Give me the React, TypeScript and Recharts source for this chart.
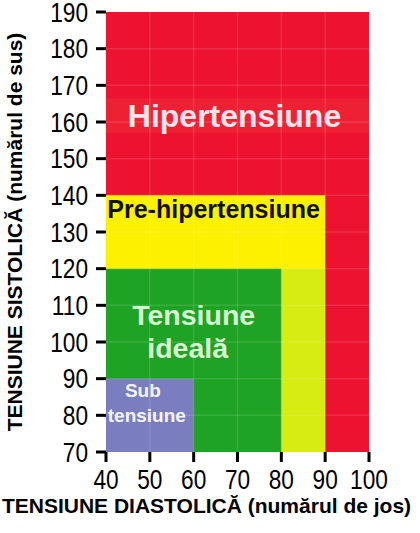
import React from 'react';
import { ComposedChart, XAxis, YAxis, ReferenceArea, ReferenceLine } from 'recharts';

// Axis ticks
const xTicks = [40, 50, 60, 70, 80, 90, 100];
const yTicks = [70, 80, 90, 100, 110, 120, 130, 140, 150, 160, 170, 180, 190];

// Zone bounds (diastolic x1-x2, systolic y1-y2)
const zoneNames = ['Hipertensiune', 'Bandă', 'Pre-hipertensiune', 'Limită', 'Tensiune ideală', 'Sub tensiune'];
const zoneX1 = [40, 40, 40, 80, 40, 40];
const zoneX2 = [100, 100, 90, 90, 80, 60];
const zoneY1 = [70, 157, 70, 70, 70, 70];
const zoneY2 = [190, 166.5, 140, 120, 120, 90];
const zoneColors = ['#ec1230', '#ee2034', '#fdf100', '#d6ec12', '#1ea324', '#7b7dc1'];

// Zone label text lines
const hyperLines = ['Hipertensiune'];
const preLines = ['Pre-hipertensiune'];
const idealLines = ['Tensiune', 'ideală'];
const lowLines = ['Sub', 'tensiune'];

const xLabel = 'TENSIUNE DIASTOLICĂ (numărul de jos)';
const yLabel = 'TENSIUNE  SISTOLICĂ  (numărul de sus)';

const FONT = '"Liberation Sans", Arial, sans-serif';

type ZL = {
  viewBox?: any;
  lines: string[];
  top: number[];
  dx: number[];
  fontSize: number;
  color: string;
};

const ZoneLabel = ({ viewBox, lines, top, dx, fontSize, color }: ZL) => {
  if (!viewBox) return null;
  const cx = viewBox.x + viewBox.width / 2;
  return (
    <g>
      {lines.map((l, i) => (
        <text
          key={i}
          x={cx + dx[i]}
          y={viewBox.y + top[i]}
          textAnchor="middle"
          fontFamily={FONT}
          fontWeight="bold"
          fontSize={fontSize}
          fill={color}
        >
          {l}
        </text>
      ))}
    </g>
  );
};

const XTick = (props: any) => {
  const { x, y, payload } = props;
  return (
    <g transform={`translate(${x},${y}) scale(0.84,1)`}>
      <text x={0} y={0} dy={20} textAnchor="middle" fontFamily={FONT} fontSize={27} fill="#000">
        {payload.value}
      </text>
    </g>
  );
};

const YTick = (props: any) => {
  const { x, y, payload } = props;
  return (
    <g transform={`translate(${x},${y}) scale(0.84,1)`}>
      <text x={0} y={0} dy={9.5} textAnchor="end" fontFamily={FONT} fontSize={27} fill="#000">
        {payload.value}
      </text>
    </g>
  );
};

const dummy = [{ x: 40, y: 70 }, { x: 100, y: 190 }];

export default function App() {
  const gridX = xTicks.slice(1, -1);
  const gridY = yTicks.slice(1, -1);
  return (
    <div style={{ position: 'absolute', left: 0, top: 0, width: 420, height: 533, background: '#fff' }}>
      <ComposedChart
        width={420}
        height={533}
        data={dummy}
        margin={{ top: 12, right: 51, bottom: 0, left: 0 }}
      >
        <XAxis
          type="number"
          dataKey="x"
          domain={[40, 100]}
          ticks={xTicks}
          interval={0}
          axisLine={false}
          tickSize={10}
          tickMargin={7}
          height={81}
          tickLine={{ stroke: '#000', strokeWidth: 3 }}
          tick={<XTick />}
          label={{
            value: xLabel,
            position: 'insideBottom',
            offset: 20,
            fill: '#000',
            fontSize: 21,
            fontWeight: 'bold',
            fontFamily: FONT,
            dx: -31,
          }}
        />
        <YAxis
          type="number"
          dataKey="y"
          domain={[70, 190]}
          ticks={yTicks}
          interval={0}
          axisLine={false}
          tickSize={10}
          tickMargin={8}
          width={106}
          tickLine={{ stroke: '#000', strokeWidth: 3 }}
          tick={<YTick />}
          label={{
            value: yLabel,
            angle: -90,
            position: 'insideLeft',
            offset: 15,
            textAnchor: 'middle',
            fill: '#000',
            fontSize: 21,
            fontWeight: 'bold',
            fontFamily: FONT,
          }}
        />
        {zoneNames.map((n, i) => (
          <ReferenceArea
            key={n}
            x1={zoneX1[i]}
            x2={zoneX2[i]}
            y1={zoneY1[i]}
            y2={zoneY2[i]}
            fill={zoneColors[i]}
            fillOpacity={1}
            stroke="none"
            ifOverflow="visible"
          />
        ))}
        {gridX.map((v) => (
          <ReferenceLine key={'gx' + v} x={v} stroke="#ffffff" strokeOpacity={0.12} strokeWidth={1.5} />
        ))}
        {gridY.map((v) => (
          <ReferenceLine key={'gy' + v} y={v} stroke="#ffffff" strokeOpacity={0.12} strokeWidth={1.5} />
        ))}
        <ReferenceArea
          x1={zoneX1[1]}
          x2={zoneX2[1]}
          y1={zoneY1[1]}
          y2={zoneY2[1]}
          fillOpacity={0}
          stroke="none"
          label={<ZoneLabel lines={hyperLines} top={[29]} dx={[-3]} fontSize={32} color="#fde4ea" />}
        />
        <ReferenceArea
          x1={zoneX1[2]}
          x2={zoneX2[2]}
          y1={120}
          y2={zoneY2[2]}
          fillOpacity={0}
          stroke="none"
          label={<ZoneLabel lines={preLines} top={[23]} dx={[-2]} fontSize={25} color="#111" />}
        />
        <ReferenceArea
          x1={zoneX1[4]}
          x2={zoneX2[4]}
          y1={zoneY1[4]}
          y2={zoneY2[4]}
          fillOpacity={0}
          stroke="none"
          label={<ZoneLabel lines={idealLines} top={[56, 89]} dx={[0, -6]} fontSize={28.5} color="#d8f6d2" />}
        />
        <ReferenceArea
          x1={zoneX1[5]}
          x2={zoneX2[5]}
          y1={zoneY1[5]}
          y2={zoneY2[5]}
          fillOpacity={0}
          stroke="none"
          label={<ZoneLabel lines={lowLines} top={[18, 43]} dx={[-7, -3]} fontSize={19} color="#f4f4ff" />}
        />
      </ComposedChart>
    </div>
  );
}
